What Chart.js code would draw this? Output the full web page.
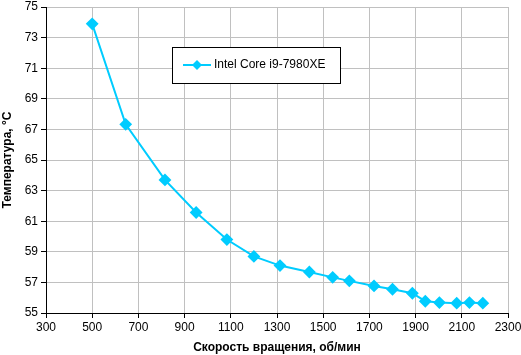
<!DOCTYPE html>
<html><head><meta charset="utf-8">
<script src="https://cdn.jsdelivr.net/npm/chart.js@4/dist/chart.umd.min.js"></script>
<style>html,body{margin:0;padding:0;background:#fff}#w{width:521px;height:355px}</style>
</head><body><div id="w"><canvas id="c"></canvas></div>
<script>
const seriesLabel = 'Intel Core i9-7980XE';
const rpm = [500, 645, 815, 950, 1083, 1200, 1313, 1440, 1541, 1613, 1720, 1800, 1886, 1942, 2003, 2078, 2133, 2191];
const temp = [73.9, 67.33, 63.7, 61.57, 59.8, 58.7, 58.1, 57.68, 57.33, 57.1, 56.77, 56.55, 56.29, 55.77, 55.68, 55.64, 55.68, 55.64];
const xTitle = 'Скорость вращения, об/мин';
const yTitle = 'Температура, °C';
const color = '#00CCFF';
const font = 'Liberation Sans, Arial, sans-serif';

const legendPlugin = {
  id: 'boxLegend',
  afterDraw(chart) {
    const ctx = chart.ctx;
    const x = 172, y = 47, w = 168, h = 36;
    ctx.save();
    ctx.fillStyle = '#fff';
    ctx.fillRect(x, y, w, h);
    ctx.strokeStyle = '#000';
    ctx.lineWidth = 1;
    ctx.strokeRect(x + 0.5, y + 0.5, w, h);
    const cy = y + 18;
    ctx.strokeStyle = color;
    ctx.lineWidth = 2;
    ctx.beginPath(); ctx.moveTo(183, cy); ctx.lineTo(211, cy); ctx.stroke();
    ctx.fillStyle = color;
    ctx.beginPath(); ctx.moveTo(197, cy - 5); ctx.lineTo(202, cy); ctx.lineTo(197, cy + 5); ctx.lineTo(192, cy); ctx.closePath(); ctx.fill();
    ctx.fillStyle = '#000';
    ctx.font = '12px ' + font;
    ctx.textBaseline = 'middle';
    ctx.fillText(seriesLabel, 214, cy);
    ctx.restore();
  }
};

new Chart(document.getElementById('c'), {
  type: 'line',
  data: {
    datasets: [{
      label: seriesLabel,
      data: rpm.map((v, i) => ({x: v, y: temp[i]})),
      borderColor: color,
      backgroundColor: color,
      borderWidth: 2,
      pointStyle: 'rectRot',
      pointRadius: 5,
      pointHoverRadius: 5,
      tension: 0
    }]
  },
  options: {
    responsive: true,
    maintainAspectRatio: false,
    animation: false,
    layout: {padding: {left: 0, right: 13, top: 5, bottom: 0}},
    plugins: {legend: {display: false}, tooltip: {enabled: false}},
    scales: {
      x: {
        type: 'linear', min: 300, max: 2300,
        ticks: {stepSize: 200, color: '#000', font: {family: font, size: 12}, padding: 2, maxRotation: 0, autoSkip: false, callback: v => String(v)},
        grid: {color: '#c0c0c0', tickColor: '#000', tickLength: 5},
        border: {color: '#000', width: 1},
        title: {display: true, text: xTitle, color: '#000', font: {family: font, size: 12, weight: 'bold'}, padding: {top: 4, bottom: 0}},
        afterFit(s) { s.height = 42; s.paddingLeft = 0; s.paddingRight = 0; }
      },
      y: {
        min: 55, max: 75,
        ticks: {stepSize: 2, color: '#000', font: {family: font, size: 12}, padding: 3},
        grid: {color: '#c0c0c0', tickColor: '#000', tickLength: 5},
        border: {color: '#000', width: 1},
        title: {display: true, text: yTitle, color: '#000', font: {family: font, size: 12, weight: 'bold'}, padding: {top: 0, bottom: 2}},
        afterFit(s) { s.width = 46; s.paddingTop = 0; s.paddingBottom = 0; }
      }
    }
  },
  plugins: [legendPlugin]
});
</script></body></html>
